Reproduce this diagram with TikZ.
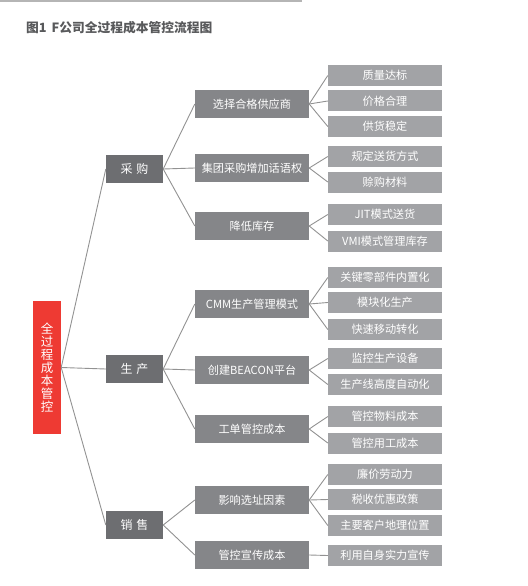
\documentclass[tikz,border=0pt]{standalone}
\usepackage{fontspec}
\setmainfont{Noto Sans CJK SC}
\definecolor{rootred}{HTML}{EE3A33}
\definecolor{boxone}{HTML}{6D6E71}
\definecolor{boxtwo}{HTML}{858689}
\definecolor{boxthree}{HTML}{A2A3A6}
\definecolor{linkgray}{HTML}{929292}
\definecolor{titlegray}{HTML}{58595B}
\definecolor{rulegray}{HTML}{B5B5B5}
\begin{document}
\begin{tikzpicture}[x=1bp,y=-1bp]
    \useasboundingbox (0,0) rectangle (528,586);
    \draw [rulegray, line width=2bp] (0,1) -- (302,1);
    \node [anchor=west, inner sep=0pt, text=titlegray, font=\fontsize{12.8}{13}\selectfont\bfseries] (title) at (26,27.5) {图1\hspace{5bp}F公司全过程成本管控流程图};

    % root
    \node [fill=rootred, text=white, minimum width=28bp, minimum height=133bp, inner sep=0pt, align=center, font=\fontsize{12.5}{13}\selectfont] (root) at (47,367.5) {全\\过\\程\\成\\本\\管\\控};

    % first level
    \begin{scope}[every node/.style={fill=boxone, text=white, minimum width=57bp, minimum height=28bp, inner sep=0pt, font=\fontsize{12}{12}\selectfont}]
        \node (cg) at (134.5,169) {采\hspace{4bp}购};
        \node (sc) at (134.5,369) {生\hspace{4bp}产};
        \node (xs) at (134.5,525) {销\hspace{4bp}售};
    \end{scope}

    % second level
    \begin{scope}[every node/.style={fill=boxtwo, text=white, minimum width=114bp, minimum height=28bp, inner sep=0pt, font=\fontsize{11.2}{11}\selectfont}]
        \node (cg1) at (252,104) {选择合格供应商};
        \node (cg2) at (252,168) {集团采购增加话语权};
        \node (cg3) at (252,226) {降低库存};
        \node (sc1) at (252,304) {CMM生产管理模式};
        \node (sc2) at (252,370) {创建BEACON平台};
        \node (sc3) at (252,429) {工单管控成本};
        \node (xs1) at (252,500) {影响选址因素};
        \node (xs2) at (252,555) {管控宣传成本};
    \end{scope}

    % third level
    \begin{scope}[every node/.style={fill=boxthree, text=white, minimum width=114bp, minimum height=21bp, inner sep=0pt, font=\fontsize{11.2}{11}\selectfont}]
        \node (cg11) at (385,75.5) {质量达标};
        \node (cg12) at (385,101) {价格合理};
        \node (cg13) at (385,126.5) {供货稳定};
        \node (cg21) at (385,156.5) {规定送货方式};
        \node (cg22) at (385,182) {赊购材料};
        \node (cg31) at (385,214.5) {JIT模式送货};
        \node (cg32) at (385,241) {VMI模式管理库存};
        \node (sc11) at (385,277.5) {关键零部件内置化};
        \node (sc12) at (385,302.5) {模块化生产};
        \node (sc13) at (385,329.5) {快速移动转化};
        \node (sc21) at (385,358.5) {监控生产设备};
        \node (sc22) at (385,384.5) {生产线高度自动化};
        \node (sc31) at (385,416.5) {管控物料成本};
        \node (sc32) at (385,443) {管控用工成本};
        \node (xs11) at (385,474.5) {廉价劳动力};
        \node (xs12) at (385,499.5) {税收优惠政策};
        \node (xs13) at (385,525.5) {主要客户地理位置};
        \node (xs21) at (385,555.5) {利用自身实力宣传};
    \end{scope}

    \begin{scope}[every edge/.style={draw, linkgray, line width=0.9bp}]
        \path [-] (root.east) edge (cg.west);
        \path [-] (root.east) edge (sc.west);
        \path [-] (root.east) edge (xs.west);
        \foreach \a in {cg,sc} {
            \foreach \b in {1,2,3} {
                \path [-] (\a.east) edge (\a\b.west);
            }
        }
        \path [-] (xs.east) edge (xs1.west);
        \path [-] (xs.east) edge (xs2.west);
        \foreach \a in {cg1,sc1,xs1} {
            \foreach \b in {1,2,3} {
                \path [-] (\a.east) edge (\a\b.west);
            }
        }
        \foreach \a in {cg2,cg3,sc2,sc3} {
            \foreach \b in {1,2} {
                \path [-] (\a.east) edge (\a\b.west);
            }
        }
        \path [-] (xs2.east) edge (xs21.west);
    \end{scope}
\end{tikzpicture}
\end{document}
